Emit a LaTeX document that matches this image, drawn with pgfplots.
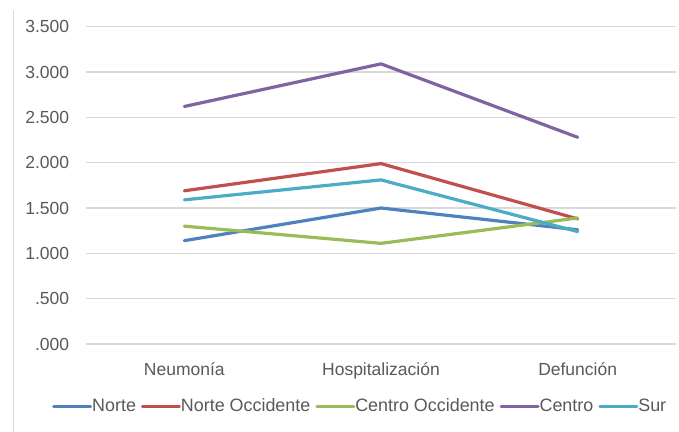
\documentclass[border=0pt]{standalone}
\usepackage{fontspec}
\setmainfont{Liberation Sans}
\usepackage{pgfplots}
\pgfplotsset{compat=1.18}
\definecolor{cNorte}{HTML}{4F81BD}
\definecolor{cNorteOcc}{HTML}{C0504D}
\definecolor{cCentroOcc}{HTML}{9BBB59}
\definecolor{cCentro}{HTML}{8064A2}
\definecolor{cSur}{HTML}{4BACC6}
\definecolor{gridc}{HTML}{D9D9D9}
\definecolor{txtc}{HTML}{595959}
\begin{document}
\begin{tikzpicture}
\path[use as bounding box] (0,0) rectangle (679bp,432bp);
\draw[color=gridc, line width=1bp] (13bp,0) -- (13bp,422bp);
\begin{axis}[
  at={(86bp,88bp)}, anchor=south west,
  scale only axis, width=590bp, height=317.3bp,
  xmin=-0.5, xmax=2.5, ymin=0, ymax=3.5,
  axis line style={draw=none},
  xtick={0,1,2},
  xticklabels={Neumonía,Hospitalización,Defunción},
  ytick={0,0.5,1,1.5,2,2.5,3,3.5},
  yticklabels={.000,.500,1.000,1.500,2.000,2.500,3.000,3.500},
  ymajorgrids,
  major grid style={color=gridc, line width=1.3bp},
  tick style={draw=none},
  xticklabel style={font=\fontsize{17.5bp}{20bp}\selectfont, text=txtc, anchor=base, inner sep=0pt, yshift=-31bp},
  yticklabel style={font=\fontsize{17.5bp}{20bp}\selectfont, text=txtc, anchor=east, inner sep=0pt, xshift=-16.7bp},
  legend columns=5,
  legend style={at={(-0.0576,-0.1954)}, anchor=west, draw=none, fill=none, inner sep=0pt,
    font=\fontsize{17.9bp}{20bp}\selectfont, text=txtc,
    nodes={inner sep=0pt},
    /tikz/every odd column/.append style={column sep=0pt},
    /tikz/every even column/.append style={column sep=5bp}},
  legend image code/.code={\draw[#1, line width=3bp] (0bp,0bp) -- (37bp,0bp);},
  every axis plot/.append style={line width=3.2bp, line cap=round, line join=round},
]
\addplot[color=cNorte, no markers] coordinates {(0,1.14) (1,1.50) (2,1.26)};
\addlegendentry{Norte}
\addplot[color=cNorteOcc, no markers] coordinates {(0,1.69) (1,1.99) (2,1.38)};
\addlegendentry{Norte Occidente}
\addplot[color=cCentroOcc, no markers] coordinates {(0,1.30) (1,1.11) (2,1.39)};
\addlegendentry{Centro Occidente}
\addplot[color=cCentro, no markers] coordinates {(0,2.62) (1,3.09) (2,2.28)};
\addlegendentry{Centro}
\addplot[color=cSur, no markers] coordinates {(0,1.59) (1,1.81) (2,1.24)};
\addlegendentry{Sur}
\end{axis}
\end{tikzpicture}
\end{document}
